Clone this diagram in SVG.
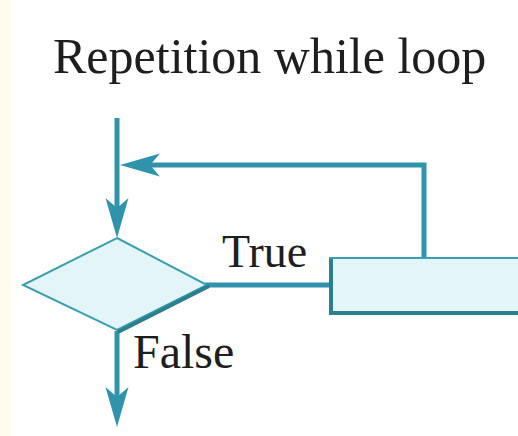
<svg xmlns="http://www.w3.org/2000/svg" width="518" height="436" viewBox="0 0 518 436">
<style>
.t{font-family:"Liberation Serif","Times New Roman",serif;fill:#1e1e1e;}
.ln{fill:none;stroke:#2f93ab;stroke-width:5;}
.shape{fill:#e3f5f9;stroke:#3a9fb0;stroke-width:2;}
.shadow{fill:none;stroke:#2d7f90;stroke-width:4;}
</style>
<defs>
<marker id="ah" markerUnits="userSpaceOnUse" markerWidth="42" markerHeight="26" viewBox="0 -13 42 26" refX="10" refY="0" orient="auto">
<path d="M0,-11.5 L40,0 L0,11.5 L10,0 Z" fill="#2f93ab"/>
</marker>
</defs>
<rect x="0" y="0" width="518" height="436" fill="#ffffff"/>
<rect x="0" y="0" width="11" height="436" fill="#fffcec"/>
<text class="t" x="53" y="73" font-size="50">Repetition while loop</text>
<g id="connectors">
<path class="ln" d="M117,118 V208" marker-end="url(#ah)"/>
<path class="ln" d="M424,258 V165 H150" marker-end="url(#ah)"/>
<path class="ln" d="M205,285 H330"/>
<path class="ln" d="M117,331 V397" marker-end="url(#ah)"/>
</g>
<g id="decision">
<polygon class="shape" points="117,238 207,285 117,330 23,285"/>
<polyline class="shadow" points="209,286 118,332"/>
</g>
<g id="process">
<rect class="shape" x="330" y="258" width="200" height="54"/>
<polyline class="shadow" points="331,259 331,313 518,313"/>
</g>
<text class="t" x="222" y="267" font-size="46">True</text>
<text class="t" x="133" y="368" font-size="48">False</text>
</svg>
